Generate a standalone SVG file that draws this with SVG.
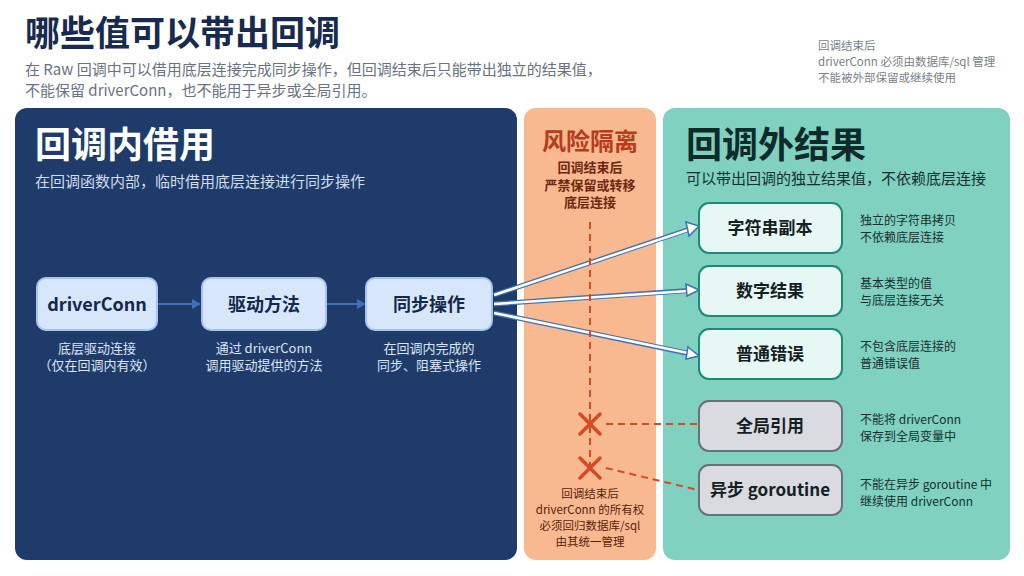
<svg xmlns="http://www.w3.org/2000/svg" width="1024" height="576" viewBox="0 0 1024 576">
<defs>
<style>
text{font-family:"Noto Sans CJK SC","Noto Sans",sans-serif}
.b{font-weight:bold}
.nb{fill:#d8e6fc;stroke:#a6c4f2;stroke-width:2}
.nt{font-size:18px;font-weight:bold;fill:#13284d;text-anchor:middle}
.cap{font-size:13px;fill:#dbe5f5;text-anchor:middle}
.gb{fill:#e6f7f4;stroke:#1d8a79;stroke-width:2}
.xb{fill:#d9dbe0;stroke:#6b7078;stroke-width:2}
.bt{font-size:17px;font-weight:bold;fill:#13201f;text-anchor:middle}
.ds{font-size:12px;fill:#16302e}
.red{stroke:#d64a22;stroke-width:2;stroke-dasharray:7 5;fill:none}
.ms{font-size:11.5px;fill:#5a1d0c;text-anchor:middle}
</style>
</defs>
<rect width="1024" height="576" fill="#fff"/>
<text x="25" y="46" font-size="35" class="b" fill="#182a4e">哪些值可以带出回调</text>
<text x="25" y="75" font-size="15" fill="#6b7280">在 Raw 回调中可以借用底层连接完成同步操作，但回调结束后只能带出独立的结果值，</text>
<text x="25" y="96" font-size="15" fill="#6b7280">不能保留 driverConn，也不能用于异步或全局引用。</text>
<g font-size="11.5" fill="#7a7f87"><text x="818" y="50">回调结束后</text><text x="818" y="66">driverConn 必须由数据库/sql 管理</text><text x="818" y="82">不能被外部保留或继续使用</text></g>

<g id="panel-left">
<rect x="15" y="108" width="502" height="452" rx="12" fill="#1f3b69"/>
<text x="35" y="158" font-size="36" class="b" fill="#fff">回调内借用</text>
<text x="35" y="187" font-size="15" fill="#d2ddef">在回调函数内部，临时借用底层连接进行同步操作</text>
</g>
<g id="panel-mid">
<rect x="524" y="108" width="132" height="452" rx="12" fill="#f8b990"/>
<text x="590" y="150" font-size="24" class="b" fill="#b53d1b" text-anchor="middle">风险隔离</text>
<g font-size="13" class="b" fill="#6e2810" text-anchor="middle"><text x="590" y="172">回调结束后</text><text x="590" y="190">严禁保留或转移</text><text x="590" y="207">底层连接</text></g>
<g class="ms"><text x="590" y="498">回调结束后</text><text x="590" y="514">driverConn 的所有权</text><text x="590" y="530">必须回归数据库/sql</text><text x="590" y="546">由其统一管理</text></g>
</g>
<g id="panel-right">
<rect x="663" y="108" width="347" height="452" rx="12" fill="#80d1c0"/>
<text x="686" y="158" font-size="36" class="b" fill="#0e2b2a">回调外结果</text>
<text x="686" y="184" font-size="15" fill="#16302e">可以带出回调的独立结果值，不依赖底层连接</text>
</g>

<g id="connectors">
<g stroke="#3f72b4" stroke-width="2"><line x1="157" y1="304" x2="194" y2="304"/><line x1="326" y1="304" x2="359" y2="304"/></g>
<path d="M192,299 L201,304 L192,309 Z" fill="#3f72b4"/><path d="M357,299 L366,304 L357,309 Z" fill="#3f72b4"/>
<g fill="none">
<path d="M494,295 L696,227" stroke="#3f72b4" stroke-width="5"/><path d="M494,295 L688,230" stroke="#fff" stroke-width="2.5"/>
<path d="M494,304 L696,290" stroke="#3f72b4" stroke-width="5"/><path d="M494,304 L688,291" stroke="#fff" stroke-width="2.5"/>
<path d="M494,313 L696,355" stroke="#3f72b4" stroke-width="5"/><path d="M494,313 L688,353" stroke="#fff" stroke-width="2.5"/>
</g>
<path d="M686,222 L699,226 L689,236 Z" fill="#fff" stroke="#3f72b4" stroke-width="1.5"/>
<path d="M686,284 L699,290 L687,296 Z" fill="#fff" stroke="#3f72b4" stroke-width="1.5"/>
<path d="M688,347 L699,356 L686,359 Z" fill="#fff" stroke="#3f72b4" stroke-width="1.5"/>
<line x1="590" y1="222" x2="590" y2="470" class="red"/>
<line x1="606" y1="424" x2="698" y2="424" class="red"/>
<line x1="606" y1="468" x2="698" y2="490" class="red"/>
<g stroke="#d64a22" stroke-width="3.5" stroke-linecap="round"><path d="M580,414 L600,434 M600,414 L580,434"/><path d="M580,458 L600,478 M600,458 L580,478"/></g>
</g>

<g id="n-driverConn"><rect x="37" y="278" width="120" height="52" rx="9" class="nb"/><text x="97" y="311" class="nt">driverConn</text><text x="97" y="353" class="cap">底层驱动连接</text><text x="97" y="370" class="cap">（仅在回调内有效）</text></g>
<g id="n-driver-method"><rect x="202" y="278" width="124" height="52" rx="9" class="nb"/><text x="264" y="311" class="nt">驱动方法</text><text x="264" y="353" class="cap">通过 driverConn</text><text x="264" y="370" class="cap">调用驱动提供的方法</text></g>
<g id="n-sync"><rect x="366" y="278" width="126" height="52" rx="9" class="nb"/><text x="429" y="311" class="nt">同步操作</text><text x="429" y="353" class="cap">在回调内完成的</text><text x="429" y="370" class="cap">同步、阻塞式操作</text></g>

<g id="n-string"><rect x="699" y="203" width="143" height="50" rx="10" class="gb"/><text x="770" y="234" class="bt">字符串副本</text><text x="860" y="225" class="ds">独立的字符串拷贝</text><text x="860" y="242" class="ds">不依赖底层连接</text></g>
<g id="n-number"><rect x="699" y="266" width="143" height="50" rx="10" class="gb"/><text x="770" y="297" class="bt">数字结果</text><text x="860" y="288" class="ds">基本类型的值</text><text x="860" y="305" class="ds">与底层连接无关</text></g>
<g id="n-error"><rect x="699" y="329" width="143" height="50" rx="10" class="gb"/><text x="770" y="360" class="bt">普通错误</text><text x="860" y="351" class="ds">不包含底层连接的</text><text x="860" y="368" class="ds">普通错误值</text></g>
<g id="n-global"><rect x="699" y="401" width="143" height="50" rx="10" class="xb"/><text x="770" y="432" class="bt">全局引用</text><text x="860" y="424" class="ds">不能将 driverConn</text><text x="860" y="441" class="ds">保存到全局变量中</text></g>
<g id="n-goroutine"><rect x="699" y="465" width="143" height="50" rx="10" class="xb"/><text x="770" y="496" class="bt">异步 goroutine</text><text x="860" y="489" class="ds">不能在异步 goroutine 中</text><text x="860" y="506" class="ds">继续使用 driverConn</text></g>
</svg>
